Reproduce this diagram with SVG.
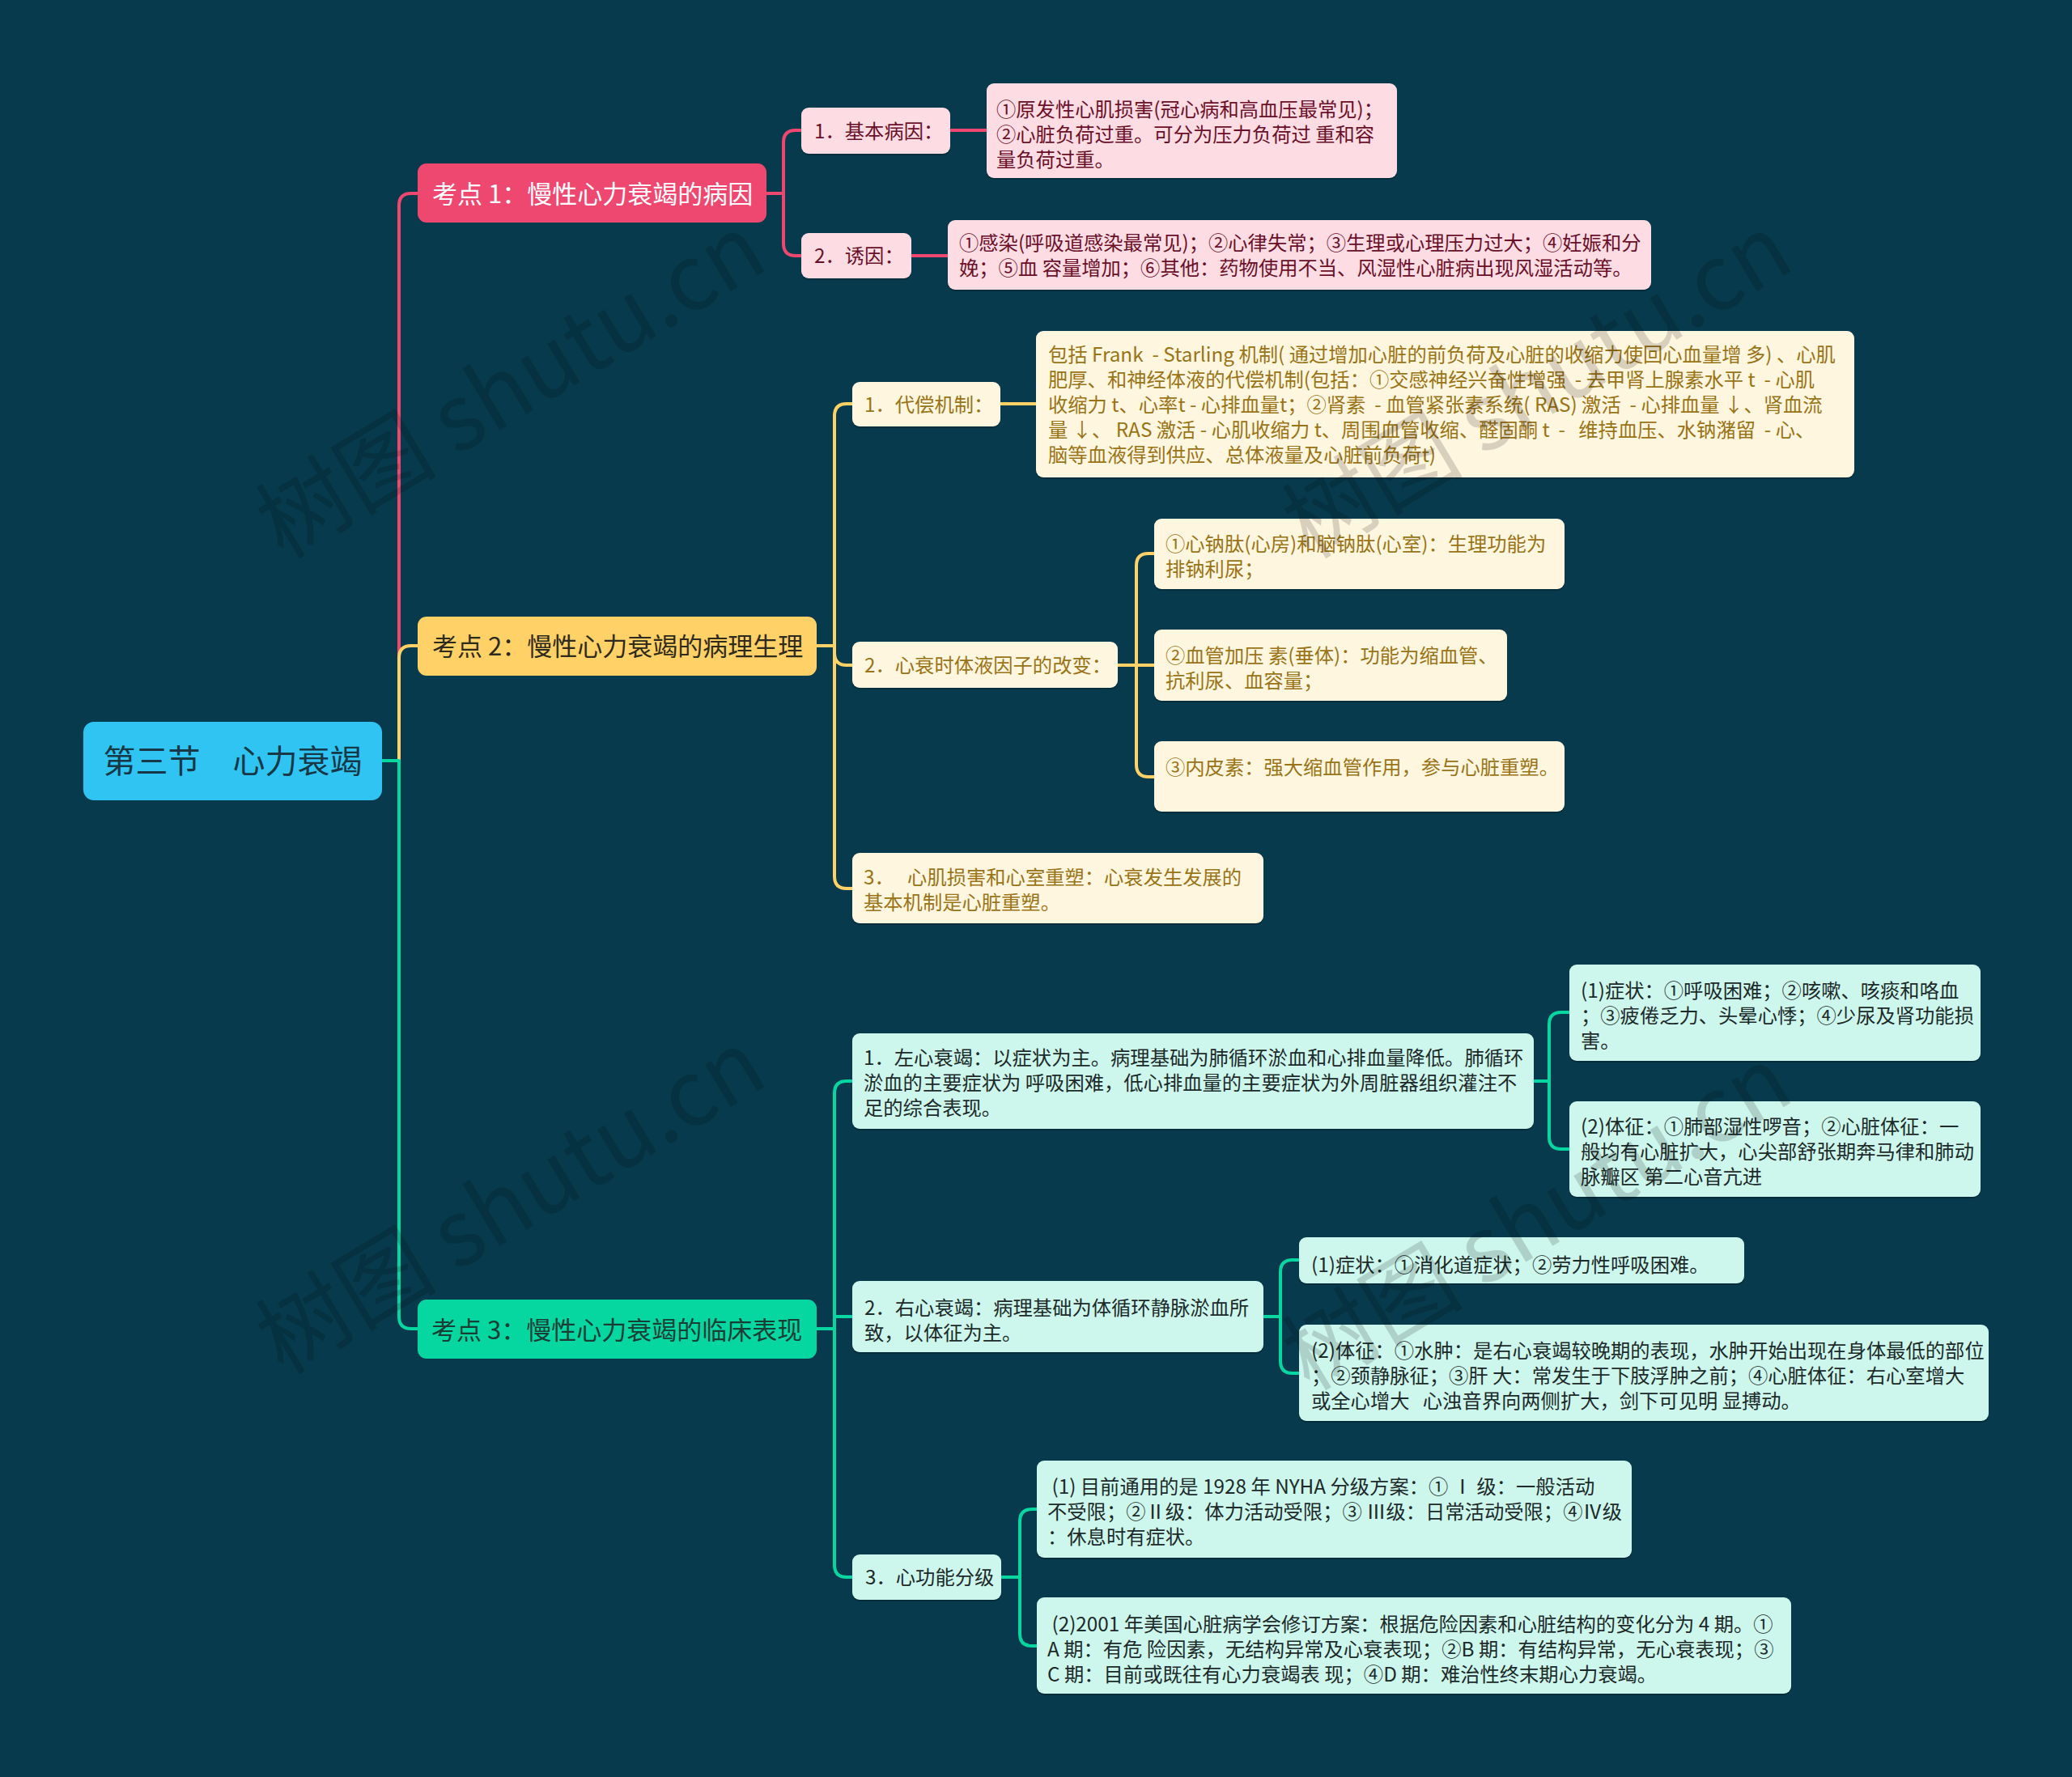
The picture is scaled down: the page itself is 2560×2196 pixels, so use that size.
<svg xmlns="http://www.w3.org/2000/svg" width="2560" height="2196" viewBox="0 0 2560 2196">
<style>
text{font-family:"Noto Sans CJK SC","Noto Sans",sans-serif;white-space:pre}
.c{fill:none;stroke-width:4;stroke-linejoin:round;stroke-linecap:round}
.cp{stroke:#EF476F}.cy{stroke:#FFD166}.cg{stroke:#06D6A0}
.sh{fill:#021f29;opacity:.45}
.s1{fill:#FDDCE4}.s2{fill:#FFF6DF}.s3{fill:#CDF7EC}
.ts1{font-size:24.3px;fill:#6B1028}
.ts2{font-size:24.3px;fill:#9A7416}
.ts3{font-size:24.3px;fill:#1C2A2A}
.tt{font-size:31px}
.wm{font-size:112px;fill:#000;opacity:.15}
</style>
<rect width="2560" height="2196" fill="#073A4C"/>

<g id="connectors">
<path class="c cp" d="M472,940 H493 V254 Q493,239 508,239 H516"/>
<path class="c cy" d="M472,940 H493 V813 Q493,798 508,798 H516"/>
<path class="c cg" d="M472,940 H493 V1627 Q493,1642 508,1642 H516"/>

<path class="c cp" d="M947,239 H968 V176 Q968,161 983,161 H990"/>
<path class="c cp" d="M947,239 H968 V301 Q968,316 983,316 H990"/>
<path class="c cp" d="M1174,161 H1219"/>
<path class="c cp" d="M1126,316 H1171"/>

<path class="c cy" d="M1009,798 H1031 V514 Q1031,499 1046,499 H1053"/>
<path class="c cy" d="M1009,798 H1031 V807 Q1031,822 1046,822 H1053"/>
<path class="c cy" d="M1009,798 H1031 V1083 Q1031,1098 1046,1098 H1053"/>
<path class="c cy" d="M1236,499 H1280"/>
<path class="c cy" d="M1381,822 H1404 V699 Q1404,684 1419,684 H1426"/>
<path class="c cy" d="M1381,822 H1426"/>
<path class="c cy" d="M1381,822 H1404 V945 Q1404,960 1419,960 H1426"/>

<path class="c cg" d="M1009,1642 H1031 V1351 Q1031,1336 1046,1336 H1053"/>
<path class="c cg" d="M1009,1642 H1031 V1627 H1053"/>
<path class="c cg" d="M1009,1642 H1031 V1934 Q1031,1949 1046,1949 H1053"/>
<path class="c cg" d="M1895,1336 H1914 V1266 Q1914,1251 1929,1251 H1939"/>
<path class="c cg" d="M1895,1336 H1914 V1405 Q1914,1420 1929,1420 H1939"/>
<path class="c cg" d="M1561,1627 H1582 V1572 Q1582,1557 1597,1557 H1605"/>
<path class="c cg" d="M1561,1627 H1582 V1682 Q1582,1697 1597,1697 H1605"/>
<path class="c cg" d="M1237,1949 H1260 V1880 Q1260,1865 1275,1865 H1281"/>
<path class="c cg" d="M1237,1949 H1260 V2019 Q1260,2034 1275,2034 H1281"/>
</g>

<g id="root">
<rect x="103" y="892" width="369" height="97" rx="13" fill="#30C4F3"/>
<text x="287.5" y="955" font-size="40" fill="#173846" text-anchor="middle">第三节　心力衰竭</text>
</g>

<g id="topic1">
<rect x="516" y="202" width="431" height="73" rx="11" fill="#EF4870"/>
<text class="tt" x="534" y="251" fill="#FFFFFF">考点 1：慢性心力衰竭的病因</text>
</g>
<g id="topic2">
<rect x="516" y="762" width="493" height="73" rx="11" fill="#FFD166"/>
<text class="tt" x="534" y="810" fill="#2E2A1C">考点 2：慢性心力衰竭的病理生理</text>
</g>
<g id="topic3">
<rect x="516" y="1606" width="493" height="73" rx="11" fill="#06D6A0"/>
<text class="tt" x="533" y="1655" fill="#173D35">考点 3：慢性心力衰竭的临床表现</text>
</g>

<g id="n1-1">
<rect class="sh" x="990" y="135" width="184" height="57" rx="9"/>
<rect class="s1" x="990" y="133" width="184" height="57" rx="9"/>
<text class="ts1" x="1006" y="171">1．基本病因：</text>
</g>
<g id="n1-1a">
<rect class="sh" x="1219" y="105" width="507" height="117" rx="9"/>
<rect class="s1" x="1219" y="103" width="507" height="117" rx="9"/>
<text class="ts1"><tspan x="1231" y="144">①原发性心肌损害(冠心病和高血压最常见)；</tspan><tspan x="1231" y="175">②心脏负荷过重。可分为压力负荷过 重和容</tspan><tspan x="1231" y="206">量负荷过重。</tspan></text>
</g>
<g id="n1-2">
<rect class="sh" x="990" y="290" width="136" height="56" rx="9"/>
<rect class="s1" x="990" y="288" width="136" height="56" rx="9"/>
<text class="ts1" x="1006" y="325">2．诱因：</text>
</g>
<g id="n1-2a">
<rect class="sh" x="1171" y="274" width="869" height="86" rx="9"/>
<rect class="s1" x="1171" y="272" width="869" height="86" rx="9"/>
<text class="ts1"><tspan x="1185" y="309">①感染(呼吸道感染最常见)；②心律失常；③生理或心理压力过大；④妊娠和分</tspan><tspan x="1185" y="340">娩；⑤血 容量增加；⑥其他：药物使用不当、风湿性心脏病出现风湿活动等。</tspan></text>
</g>

<g id="n2-1">
<rect class="sh" x="1053" y="474" width="183" height="55" rx="9"/>
<rect class="s2" x="1053" y="472" width="183" height="55" rx="9"/>
<text class="ts2" x="1068" y="509">1．代偿机制：</text>
</g>
<g id="n2-1a">
<rect class="sh" x="1280" y="411" width="1011" height="181" rx="9"/>
<rect class="s2" x="1280" y="409" width="1011" height="181" rx="9"/>
<text class="ts2"><tspan x="1295" y="447">包括 Frank  - Starling 机制( 通过增加心脏的前负荷及心脏的收缩力使回心血量增 多) 、心肌</tspan><tspan x="1295" y="478">肥厚、和神经体液的代偿机制(包括：①交感神经兴奋性增强  - 去甲肾上腺素水平 t  - 心肌</tspan><tspan x="1295" y="509">收缩力 t、心率t - 心排血量t；②肾素  - 血管紧张素系统( RAS) 激活  - 心排血量 ↓、肾血流</tspan><tspan x="1295" y="540">量 ↓、 RAS 激活 - 心肌收缩力 t、周围血管收缩、醛固酮 t  -   维持血压、水钠潴留  - 心、</tspan><tspan x="1295" y="571">脑等血液得到供应、总体液量及心脏前负荷t)</tspan></text>
</g>
<g id="n2-2">
<rect class="sh" x="1053" y="795" width="328" height="57" rx="9"/>
<rect class="s2" x="1053" y="793" width="328" height="57" rx="9"/>
<text class="ts2" x="1068" y="831">2．心衰时体液因子的改变：</text>
</g>
<g id="n2-2a">
<rect class="sh" x="1426" y="643" width="507" height="87" rx="9"/>
<rect class="s2" x="1426" y="641" width="507" height="87" rx="9"/>
<text class="ts2"><tspan x="1440" y="681">①心钠肽(心房)和脑钠肽(心室)：生理功能为</tspan><tspan x="1440" y="712">排钠利尿；</tspan></text>
</g>
<g id="n2-2b">
<rect class="sh" x="1426" y="780" width="436" height="88" rx="9"/>
<rect class="s2" x="1426" y="778" width="436" height="88" rx="9"/>
<text class="ts2"><tspan x="1440" y="819">②血管加压 素(垂体)：功能为缩血管、</tspan><tspan x="1440" y="850">抗利尿、血容量；</tspan></text>
</g>
<g id="n2-2c">
<rect class="sh" x="1426" y="918" width="507" height="87" rx="9"/>
<rect class="s2" x="1426" y="916" width="507" height="87" rx="9"/>
<text class="ts2" x="1440" y="957">③内皮素：强大缩血管作用，参与心脏重塑。</text>
</g>
<g id="n2-3">
<rect class="sh" x="1053" y="1056" width="508" height="87" rx="9"/>
<rect class="s2" x="1053" y="1054" width="508" height="87" rx="9"/>
<text class="ts2"><tspan x="1067" y="1093">3．   心肌损害和心室重塑：心衰发生发展的</tspan><tspan x="1067" y="1124">基本机制是心脏重塑。</tspan></text>
</g>

<g id="n3-1">
<rect class="sh" x="1053" y="1279" width="842" height="118" rx="9"/>
<rect class="s3" x="1053" y="1277" width="842" height="118" rx="9"/>
<text class="ts3"><tspan x="1067" y="1316">1．左心衰竭：以症状为主。病理基础为肺循环淤血和心排血量降低。肺循环</tspan><tspan x="1067" y="1347">淤血的主要症状为 呼吸困难，低心排血量的主要症状为外周脏器组织灌注不</tspan><tspan x="1067" y="1378">足的综合表现。</tspan></text>
</g>
<g id="n3-1a">
<rect class="sh" x="1939" y="1194" width="508" height="119" rx="9"/>
<rect class="s3" x="1939" y="1192" width="508" height="119" rx="9"/>
<text class="ts3"><tspan x="1953" y="1233">(1)症状：①呼吸困难；②咳嗽、咳痰和咯血</tspan><tspan x="1953" y="1264">；③疲倦乏力、头晕心悸；④少尿及肾功能损</tspan><tspan x="1953" y="1295">害。</tspan></text>
</g>
<g id="n3-1b">
<rect class="sh" x="1939" y="1363" width="508" height="118" rx="9"/>
<rect class="s3" x="1939" y="1361" width="508" height="118" rx="9"/>
<text class="ts3"><tspan x="1953" y="1401">(2)体征：①肺部湿性啰音；②心脏体征：一</tspan><tspan x="1953" y="1432">般均有心脏扩大，心尖部舒张期奔马律和肺动</tspan><tspan x="1953" y="1463">脉瓣区 第二心音亢进</tspan></text>
</g>
<g id="n3-2">
<rect class="sh" x="1053" y="1585" width="508" height="88" rx="9"/>
<rect class="s3" x="1053" y="1583" width="508" height="88" rx="9"/>
<text class="ts3"><tspan x="1068" y="1625">2．右心衰竭：病理基础为体循环静脉淤血所</tspan><tspan x="1068" y="1656">致，以体征为主。</tspan></text>
</g>
<g id="n3-2a">
<rect class="sh" x="1605" y="1531" width="550" height="57" rx="9"/>
<rect class="s3" x="1605" y="1529" width="550" height="57" rx="9"/>
<text class="ts3" x="1620" y="1572">(1)症状：①消化道症状；②劳力性呼吸困难。</text>
</g>
<g id="n3-2b">
<rect class="sh" x="1605" y="1639" width="852" height="119" rx="9"/>
<rect class="s3" x="1605" y="1637" width="852" height="119" rx="9"/>
<text class="ts3"><tspan x="1620" y="1678">(2)体征：①水肿：是右心衰竭较晚期的表现，水肿开始出现在身体最低的部位</tspan><tspan x="1620" y="1709">；②颈静脉征；③肝 大：常发生于下肢浮肿之前；④心脏体征：右心室增大</tspan><tspan x="1620" y="1740">或全心增大   心浊音界向两侧扩大，剑下可见明 显搏动。</tspan></text>
</g>
<g id="n3-3">
<rect class="sh" x="1053" y="1923" width="184" height="56" rx="9"/>
<rect class="s3" x="1053" y="1921" width="184" height="56" rx="9"/>
<text class="ts3" x="1069" y="1958">3．心功能分级</text>
</g>
<g id="n3-3a">
<rect class="sh" x="1281" y="1807" width="735" height="120" rx="9"/>
<rect class="s3" x="1281" y="1805" width="735" height="120" rx="9"/>
<text class="ts3"><tspan x="1294" y="1846"> (1) 目前通用的是 1928 年 NYHA 分级方案：① Ⅰ 级：一般活动</tspan><tspan x="1294" y="1877">不受限；②Ⅱ级：体力活动受限；③ Ⅲ级：日常活动受限；④Ⅳ级</tspan><tspan x="1294" y="1908">：休息时有症状。</tspan></text>
</g>
<g id="n3-3b">
<rect class="sh" x="1281" y="1976" width="932" height="119" rx="9"/>
<rect class="s3" x="1281" y="1974" width="932" height="119" rx="9"/>
<text class="ts3"><tspan x="1294" y="2016"> (2)2001 年美国心脏病学会修订方案：根据危险因素和心脏结构的变化分为 4 期。①</tspan><tspan x="1294" y="2047">A 期：有危 险因素，无结构异常及心衰表现；②B 期：有结构异常，无心衰表现；③</tspan><tspan x="1294" y="2078">C 期：目前或既往有心力衰竭表 现；④D 期：难治性终末期心力衰竭。</tspan></text>
</g>

<g id="watermarks">
<text class="wm" transform="translate(350,692) rotate(-31)">树图 shutu.cn</text>
<text class="wm" transform="translate(1618,692) rotate(-31)">树图 shutu.cn</text>
<text class="wm" transform="translate(350,1700) rotate(-31)">树图 shutu.cn</text>
<text class="wm" transform="translate(1618,1720) rotate(-31)">树图 shutu.cn</text>
</g>
</svg>
